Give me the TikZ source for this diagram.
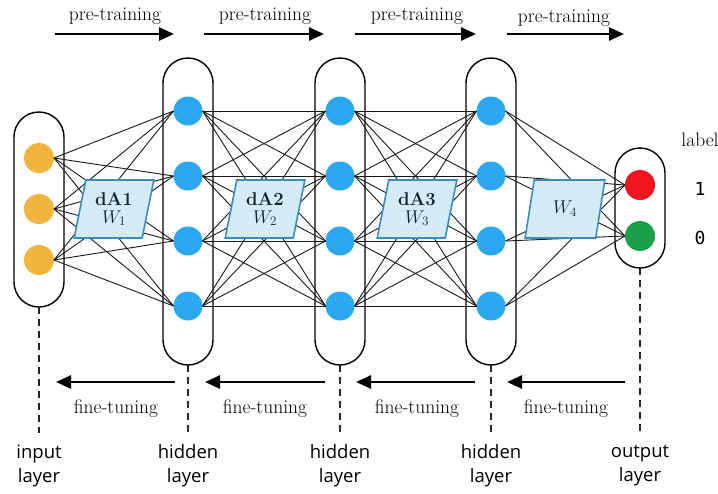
\documentclass[tikz,border=0pt]{standalone}
\usepackage{fontspec}
\usepackage{fix-cm}
\newfontfamily\lblfont{Open Sans}
\newfontfamily\digitfont{DejaVu Sans Mono}
\usetikzlibrary{arrows.meta,shapes.geometric}
\definecolor{nodeblue}{RGB}{44,168,240}
\definecolor{nodeorange}{RGB}{242,180,60}
\definecolor{nodered}{RGB}{240,20,28}
\definecolor{nodegreen}{RGB}{26,160,74}
\definecolor{boxfill}{RGB}{212,236,250}
\definecolor{boxdraw}{RGB}{60,140,185}
\definecolor{boxtext}{RGB}{20,35,48}
\begin{document}
\begin{tikzpicture}[x=1pt,y=-1pt,
  capsule/.style={draw=black, line width=1.4pt, fill=white, rounded corners=25pt, minimum width=50pt, inner sep=0pt, outer sep=0pt},
  unit/.style={circle, inner sep=0pt, outer sep=0pt, minimum size=#1},
  inunit/.style={unit=30pt, fill=nodeorange},
  hidunit/.style={unit=29pt, fill=nodeblue},
  conn/.style={line width=0.9pt, black!90},
  pbox/.style={trapezium, trapezium left angle=77, trapezium right angle=103, trapezium stretches=true,
     draw=boxdraw, line width=1.6pt, fill=boxfill, minimum width=80pt, minimum height=58pt, inner sep=0pt,
     text=boxtext, align=center, font=\fontsize{18.5}{22}\selectfont},
  dashline/.style={line width=1.8pt, dash pattern=on 7pt off 5pt, black!85},
  bigarrow/.style={line width=2.6pt, -{Triangle[length=15pt,width=13pt]}},
  phase/.style={font=\fontsize{19.5}{22}\selectfont, inner sep=0pt},
  bottomlbl/.style={font=\lblfont\fontsize{18.5}{24}\selectfont, align=center, inner sep=0pt}
]
\useasboundingbox (0,0) rectangle (718,493);

% capsules
\node[capsule, minimum height=195pt] (cin) at (39,209.5) {};
\node[capsule, minimum height=307pt] (ca) at (188,211.5) {};
\node[capsule, minimum height=307pt] (cb) at (340,211.5) {};
\node[capsule, minimum height=307pt] (cc) at (491,211.5) {};
\node[capsule, minimum height=120pt] (cout) at (640,208) {};

% units
\node[inunit] (i1) at (39,158) {};
\node[inunit] (i2) at (39,209) {};
\node[inunit] (i3) at (39,260) {};
\foreach \n/\y in {1/111,2/176,3/241,4/306}{
  \node[hidunit] (ha\n) at (188,\y) {};
  \node[hidunit] (hb\n) at (340,\y) {};
  \node[hidunit] (hc\n) at (491,\y) {};
}
\node[unit=30pt, fill=nodered] (o1) at (640,185) {};
\node[unit=30pt, fill=nodegreen] (o2) at (640,236) {};

% connections
\foreach \a in {1,2,3}{\foreach \b in {1,...,4}{\draw[conn] (i\a.east) -- (ha\b.west);}}
\foreach \a in {1,...,4}{\foreach \b in {1,...,4}{
  \draw[conn] (ha\a.east) -- (hb\b.west);
  \draw[conn] (hb\a.east) -- (hc\b.west);}}
\foreach \a in {1,...,4}{\foreach \b in {1,2}{\draw[conn] (hc\a.east) -- (o\b.west);}}

% parallelogram boxes
\node[pbox] (d1) at (114,209) {\textbf{dA1}\\[-4pt]$W_1$};
\node[pbox] (d2) at (265,209) {\textbf{dA2}\\[-4pt]$W_2$};
\node[pbox] (d3) at (417,209) {\textbf{dA3}\\[-4pt]$W_3$};
\node[pbox] (d4) at (565,209) {$W_4$};

% output labels
\node[phase] (lab) at (700,140) {label};
\node[font=\digitfont\fontsize{18}{20}\selectfont, inner sep=0pt] (l1) at (700,189) {1};
\node[font=\digitfont\fontsize{18}{20}\selectfont, inner sep=0pt] (l0) at (700,238) {0};

% dashed drop lines
\coordinate (din) at (39,433);
\coordinate (da) at (188,435);
\coordinate (db) at (340,435);
\coordinate (dc) at (491,435);
\coordinate (dout) at (640,432);
\draw[dashline] (cin.south) -- (din);
\draw[dashline] (ca.south) -- (da);
\draw[dashline] (cb.south) -- (db);
\draw[dashline] (cc.south) -- (dc);
\draw[dashline] (cout.south) -- (dout);

% pre-training arrows
\coordinate (p1s) at (55,34);  \coordinate (p1e) at (174,34);
\coordinate (p2s) at (204,34); \coordinate (p2e) at (324,34);
\coordinate (p3s) at (355,34); \coordinate (p3e) at (476,34);
\coordinate (p4s) at (507,34); \coordinate (p4e) at (624,34);
\draw[bigarrow] (p1s) -- (p1e);
\draw[bigarrow] (p2s) -- (p2e);
\draw[bigarrow] (p3s) -- (p3e);
\draw[bigarrow] (p4s) -- (p4e);
\node[phase] (t1) at (115,16) {pre-training};
\node[phase] (t2) at (265,16) {pre-training};
\node[phase] (t3) at (417,16) {pre-training};
\node[phase] (t4) at (564,18) {pre-training};

% fine-tuning arrows
\coordinate (f1s) at (175,382); \coordinate (f1e) at (56,382);
\coordinate (f2s) at (325,382); \coordinate (f2e) at (205,382);
\coordinate (f3s) at (475,382); \coordinate (f3e) at (356,382);
\coordinate (f4s) at (625,382); \coordinate (f4e) at (507,382);
\draw[bigarrow] (f1s) -- (f1e);
\draw[bigarrow] (f2s) -- (f2e);
\draw[bigarrow] (f3s) -- (f3e);
\draw[bigarrow] (f4s) -- (f4e);
\node[phase] (g1) at (116,409) {fine-tuning};
\node[phase] (g2) at (265,409) {fine-tuning};
\node[phase] (g3) at (417,409) {fine-tuning};
\node[phase] (g4) at (566,409) {fine-tuning};

% bottom labels
\node[bottomlbl] (bin) at (39,466) {input\\layer};
\node[bottomlbl] (ba) at (188,466) {hidden\\layer};
\node[bottomlbl] (bb) at (340,466) {hidden\\layer};
\node[bottomlbl] (bc) at (491,466) {hidden\\layer};
\node[bottomlbl] (bout) at (640,466) {output\\layer};
\end{tikzpicture}
\end{document}
